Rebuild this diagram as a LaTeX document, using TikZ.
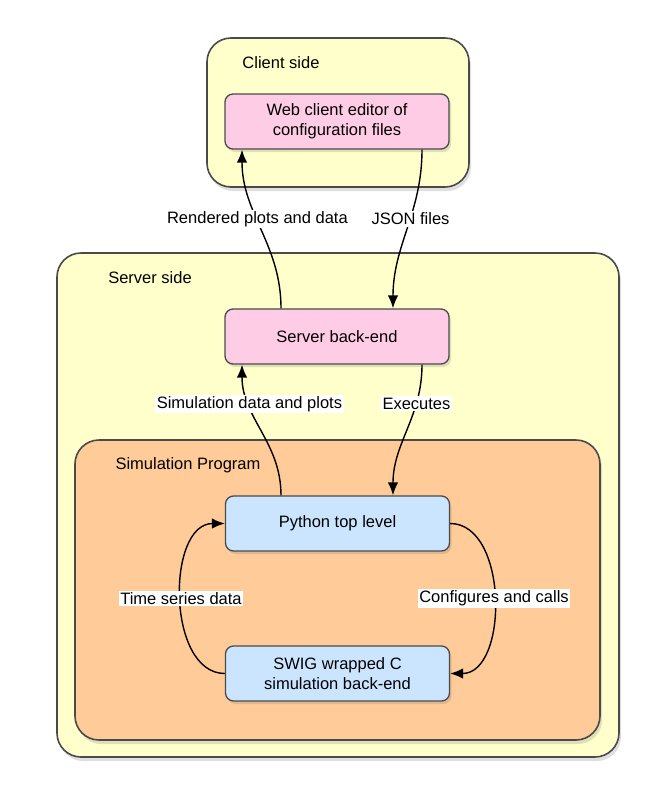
\documentclass[tikz,border=0pt]{standalone}
\usepackage{fontspec}
\setmainfont{Liberation Sans}
\usetikzlibrary{arrows.meta,shadows}

\definecolor{sideyellow}{HTML}{FFFFCC}
\definecolor{progpeach}{HTML}{FFCC99}
\definecolor{boxpink}{HTML}{FFCCE6}
\definecolor{boxblue}{HTML}{CCE5FF}
\definecolor{edgegray}{HTML}{4A4A4A}

\tikzset{
    container/.style={draw=edgegray,line width=1.6pt,rounded corners=24pt,
        drop shadow={opacity=0.25,shadow xshift=2pt,shadow yshift=-4pt}},
    block/.style={draw=edgegray,line width=1.3pt,rounded corners=8pt,
        minimum width=224pt,minimum height=55pt,align=center,
        drop shadow={opacity=0.25,shadow xshift=2pt,shadow yshift=-3pt}},
    flow/.style={-{Latex[length=13pt,width=10.5pt]},line width=1.4pt},
    flowlabel/.style={fill=white,inner sep=1.5pt}
}

\begin{document}
\begin{tikzpicture}[x=1pt,y=-1pt,font=\fontsize{16.5}{20}\selectfont]
    \useasboundingbox (0,0) rectangle (656,796);

    % Containers
    \draw[container,fill=sideyellow] (207,38) rectangle (469,187);
    \node (clientlbl) at (281,63) {Client side};
    \draw[container,fill=sideyellow] (57,253) rectangle (619,757);
    \node (serverlbl) at (150,278) {Server side};
    \draw[container,fill=progpeach] (75,440) rectangle (600,740);
    \node (simlbl) at (188,465) {Simulation Program};

    % Blocks
    \node[block,fill=boxpink] (editor) at (337,121.5) {Web client editor of\\configuration files};
    \node[block,fill=boxpink] (backend) at (337,336.5) {Server back-end};
    \node[block,fill=boxblue] (python) at (337.5,523.5) {Python top level};
    \node[block,fill=boxblue] (swig) at (337.5,673.5) {SWIG wrapped C\\simulation back-end};

    % Connections
    \draw[flow] ([xshift=-56pt]backend.north) to[out=90,in=-90]
        node[flowlabel,pos=0.57] {Rendered plots and data} ([xshift=-95pt]editor.south);
    \draw[flow] ([xshift=85pt]editor.south) to[out=-90,in=90]
        node[flowlabel,pos=0.43] {JSON files} ([xshift=56pt]backend.north);
    \draw[flow] ([xshift=-56.5pt]python.north) to[out=90,in=-90]
        node[flowlabel,pos=0.72] {Simulation data and plots} ([xshift=-95pt]backend.south);
    \draw[flow] ([xshift=85pt]backend.south) to[out=-90,in=90]
        node[flowlabel,pos=0.28] {Executes} ([xshift=55.5pt]python.north);
    \draw[flow] (swig.west) to[out=180,in=180]
        node[flowlabel] {Time series data} (python.west);
    \draw[flow] (python.east) to[out=0,in=0]
        node[flowlabel] {Configures and calls} (swig.east);
\end{tikzpicture}
\end{document}
